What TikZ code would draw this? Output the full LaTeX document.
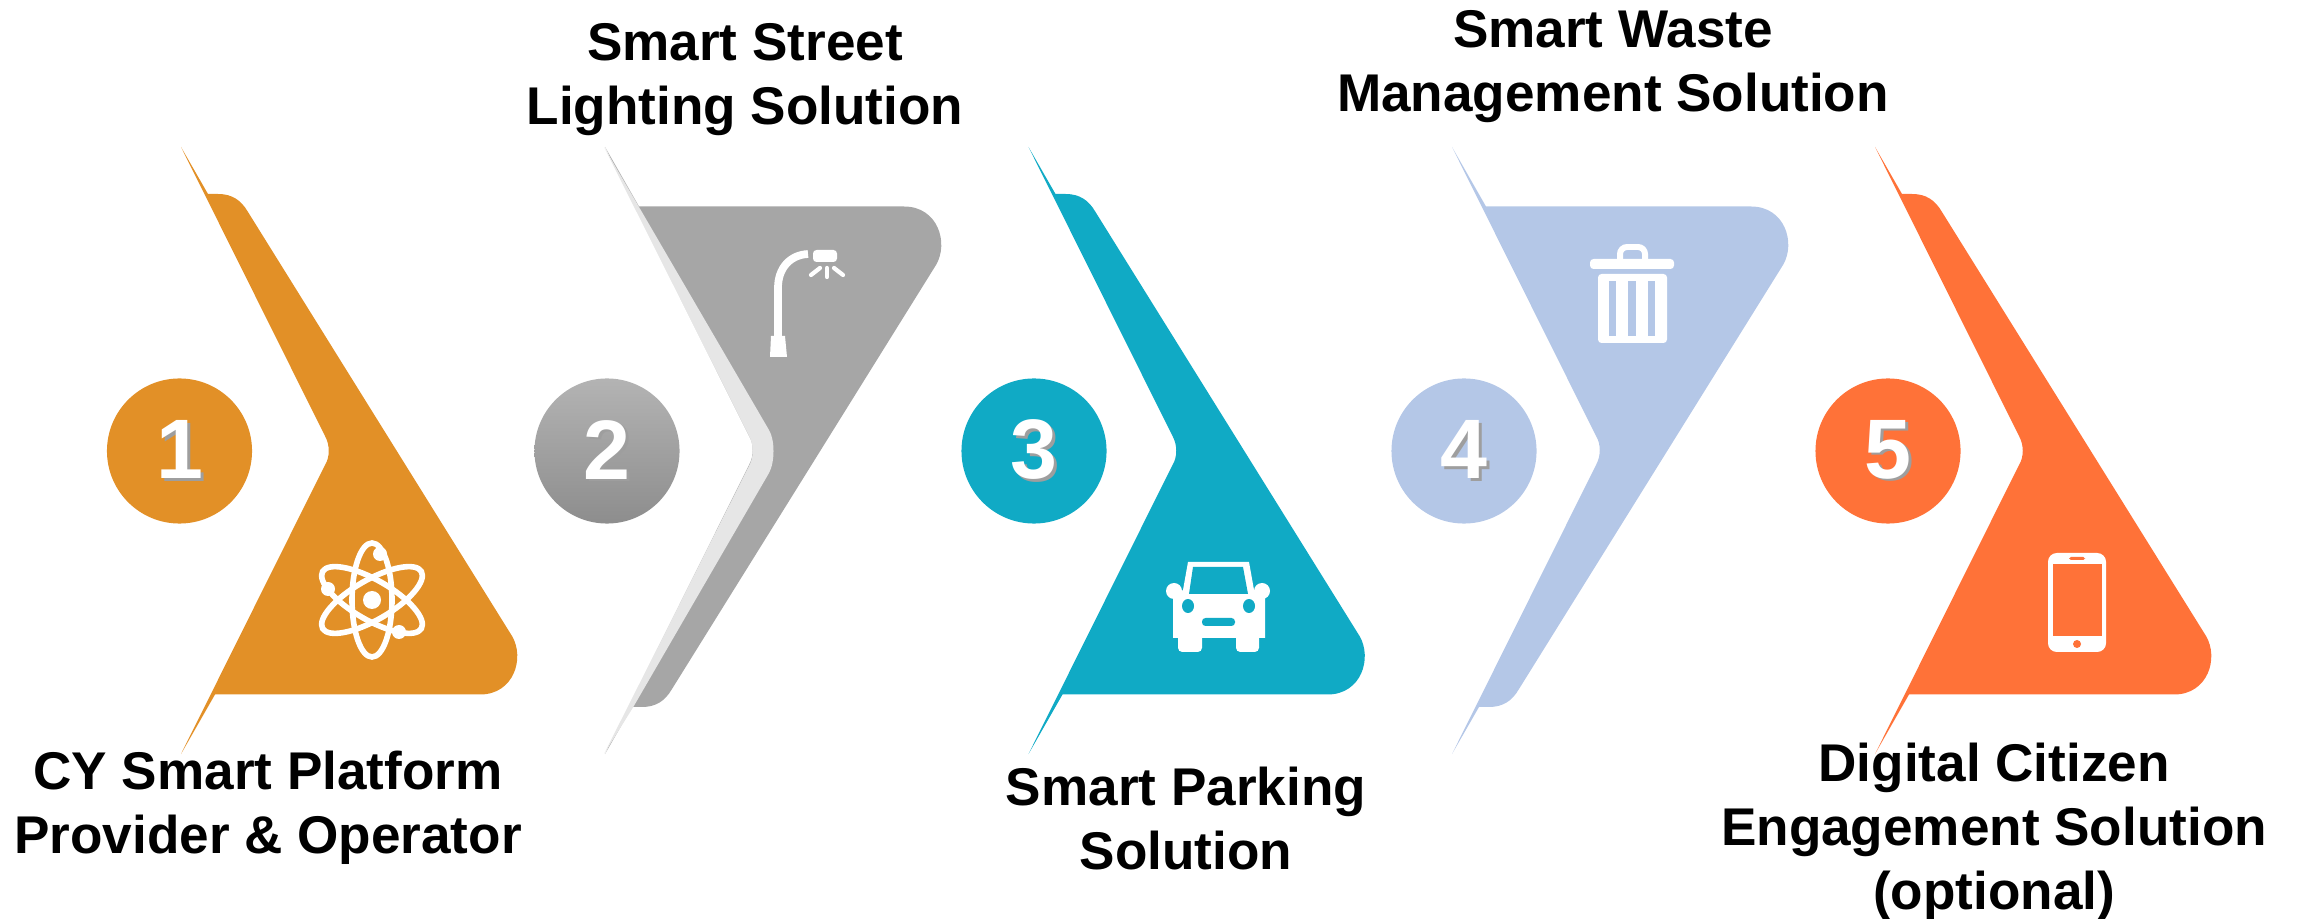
\documentclass[tikz,border=0pt]{standalone}
\usepackage{fontspec}
\setmainfont{Liberation Sans}
\usetikzlibrary{positioning}
\definecolor{orangeA}{HTML}{E29027}
\definecolor{greyA}{HTML}{A6A6A6}
\definecolor{greyB}{HTML}{E6E6E6}
\definecolor{tealA}{HTML}{10AAC5}
\definecolor{blueA}{HTML}{B4C7E7}
\definecolor{redA}{HTML}{FF7238}
\newcommand{\chevronpath}{(181,147) -- (208,194) -- (218,194) .. controls (232,194) and (241,200) .. (248,212) -- (512,636) .. controls (525,658) and (514,694.5) .. (480,694.5) -- (215,694.5) -- (181,754) -- (325,465) .. controls (330,457) and (330,445) .. (325,436) -- cycle}
\newcommand{\shadowdigit}[1]{\raisebox{-1.2pt}{\rlap{\kern0.9pt\raisebox{-0.6pt}{\textcolor{black!38}{#1}}}#1}}
\begin{document}
\begin{tikzpicture}[x=0.01cm,y=-0.01cm]
	\tikzstyle{vertex}=[circle,text=white,minimum size=1.45cm,inner sep=0pt,font=\fontsize{24}{24}\selectfont\bfseries]
	\tikzstyle{label}=[align=center,text=black,inner sep=0pt,font=\fontsize{15.1}{18.2}\selectfont\bfseries]
	\tikzstyle{icon}=[white,line width=1.6pt]
	\tikzstyle{ray}=[white,line width=1.2pt,line cap=round]
	\useasboundingbox (0,0) rectangle (2300,919);
	% chevrons
	\fill[orangeA] \chevronpath;
	\fill[greyA,shift={(424,901)},yscale=-1] \chevronpath;
	\fill[greyB] (604,147) -- (639,207) -- (769,430) .. controls (775,440) and (775,462) .. (769,473) -- (633,707.5) -- (604,754) -- (749,466) .. controls (754,457) and (754,445) .. (749,436) -- cycle;
	\fill[tealA,shift={(847.5,0)}] \chevronpath;
	\fill[blueA,shift={(1271,901)},yscale=-1] \chevronpath;
	\fill[redA,shift={(1694,0)}] \chevronpath;
	% numbers
	\node[vertex,fill=orangeA] (1) at (179.5,451) {\shadowdigit{1}};
	\node[vertex,top color=greyA!85!white,bottom color=greyA!85!black] (2) at (607,451) {\shadowdigit{2}};
	\node[vertex,fill=tealA] (3) at (1034,451) {\shadowdigit{3}};
	\node[vertex,fill=blueA] (4) at (1464,451) {\shadowdigit{4}};
	\node[vertex,fill=redA] (5) at (1888,451) {\shadowdigit{5}};
	% labels
	\node[label] (lab1) at (268,808) {CY Smart Platform\\Provider \& Operator};
	\node[label] (lab2) at (745,80) {Smart Street\\Lighting Solution};
	\node[label] (lab3) at (1186,819) {Smart Parking\\Solution};
	\node[label] (lab4) at (1613,67) {Smart Waste\\Management Solution};
	\node[label] (lab5) at (1994,832) {Digital Citizen\\Engagement Solution\\(optional)};
	% atom
	\draw[icon] (372,600) ellipse [x radius=20,y radius=57];
	\draw[icon,rotate around={60:(372,600)}] (372,600) ellipse [x radius=20,y radius=57];
	\draw[icon,rotate around={-60:(372,600)}] (372,600) ellipse [x radius=20,y radius=57];
	\fill[white] (372,600) circle [radius=9];
	\fill[white] (380,554) circle [radius=7];
	\fill[white] (328,589) circle [radius=7];
	\fill[white] (399,632) circle [radius=7];
	% street lamp
	\draw[white,line width=2.2pt] (778,337) -- (778,288) .. controls (778,268) and (790,255) .. (808,254);
	\fill[white] (771,336) -- (785,336) -- (787,357) -- (770,357) -- cycle;
	\fill[white,rounded corners=1pt] (813,250) -- (837,250) -- (837,262) -- (813,262) -- cycle;
	\draw[ray] (827,268) -- (827,277);
	\draw[ray] (820,268) -- (811,275);
	\draw[ray] (834,268) -- (843,275);
	% car
	\fill[white] (1188,562) -- (1249,562) -- (1254,590) -- (1265,597) -- (1265,638) -- (1173,638) -- (1173,597) -- (1183,590) -- cycle;
	\fill[white] (1174,591) circle [radius=8];
	\fill[white] (1262,591) circle [radius=8];
	\fill[white,rounded corners=1.2pt] (1178,630) rectangle (1202,652);
	\fill[white,rounded corners=1.2pt] (1236,630) rectangle (1259,652);
	\fill[tealA] (1193,567) -- (1243,567) -- (1248,594) -- (1189,594) -- cycle;
	\fill[tealA] (1188,606) ellipse [x radius=6,y radius=7];
	\fill[tealA] (1249,606) ellipse [x radius=6,y radius=7];
	\fill[tealA,rounded corners=1pt] (1202,618) rectangle (1235,626);
	% bin
	\draw[white,line width=1.7pt,rounded corners=2pt] (1620,260) -- (1620,247) -- (1645,247) -- (1645,260);
	\fill[white,rounded corners=1pt] (1590,269) -- (1590,259) -- (1674,259) -- (1674,269) -- cycle;
	\fill[white,rounded corners=1pt] (1598,274) rectangle (1667,343);
	\fill[blueA] (1609,281) rectangle (1616,336);
	\fill[blueA] (1628,281) rectangle (1636,336);
	\fill[blueA] (1648,281) rectangle (1655,336);
	% phone
	\fill[white,rounded corners=2.5pt] (2048,553) rectangle (2106,652);
	\fill[redA] (2053,564) rectangle (2102,636);
	\fill[redA,rounded corners=0.5pt] (2069,557) rectangle (2085,560);
	\fill[redA] (2077,644) circle [radius=4];
\end{tikzpicture}
\end{document}
